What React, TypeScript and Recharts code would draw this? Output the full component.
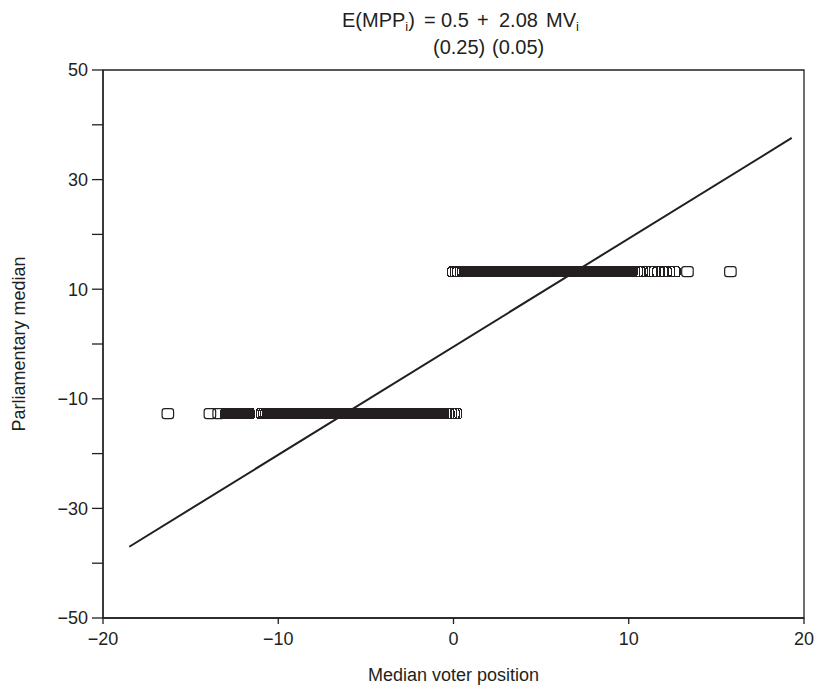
import React from 'react';
import { ScatterChart, Scatter, XAxis, YAxis, ReferenceArea, Label } from 'recharts';

const X_TICKS = [-20, -10, 0, 10, 20];
const Y_TICKS = [-50, -40, -30, -20, -10, 0, 10, 20, 30, 40, 50];
const Y_LABELED = [-50, -30, -10, 10, 30, 50];

const X_TITLE = 'Median voter position';
const Y_TITLE = 'Parliamentary median';

const LOWER_Y = -12.7;
const UPPER_Y = 13.2;

// isolated observations (lower group)
const lowerLooseX = [-16.3, -13.9, -13.4];

// tightly packed observations (lower group)
const lowerBandX = [
  -12.95, -12.9, -12.85, -12.8, -12.75, -12.7, -12.65, -12.6, -12.55, -12.5, -12.45, -12.4, -12.35,
  -12.3, -12.25, -12.2, -12.15, -12.1, -12.05, -12.0, -11.95, -11.9, -11.85, -11.8, -11.75, -11.7,
  -10.9, -10.78, -10.67, -10.58,
  -10.5, -10.45, -10.4, -10.35, -10.3, -10.25, -10.2, -10.15, -10.1, -10.05,
  -10, -9.95, -9.9, -9.85, -9.8, -9.75, -9.7, -9.65, -9.6, -9.55,
  -9.5, -9.45, -9.4, -9.35, -9.3, -9.25, -9.2, -9.15, -9.1, -9.05,
  -9, -8.95, -8.9, -8.85, -8.8, -8.75, -8.7, -8.65, -8.6, -8.55,
  -8.5, -8.45, -8.4, -8.35, -8.3, -8.25, -8.2, -8.15, -8.1, -8.05,
  -8, -7.95, -7.9, -7.85, -7.8, -7.75, -7.7, -7.65, -7.6, -7.55,
  -7.5, -7.45, -7.4, -7.35, -7.3, -7.25, -7.2, -7.15, -7.1, -7.05,
  -7, -6.95, -6.9, -6.85, -6.8, -6.75, -6.7, -6.65, -6.6, -6.55,
  -6.5, -6.45, -6.4, -6.35, -6.3, -6.25, -6.2, -6.15, -6.1, -6.05,
  -6, -5.95, -5.9, -5.85, -5.8, -5.75, -5.7, -5.65, -5.6, -5.55,
  -5.5, -5.45, -5.4, -5.35, -5.3, -5.25, -5.2, -5.15, -5.1, -5.05,
  -5, -4.95, -4.9, -4.85, -4.8, -4.75, -4.7, -4.65, -4.6, -4.55,
  -4.5, -4.45, -4.4, -4.35, -4.3, -4.25, -4.2, -4.15, -4.1, -4.05,
  -4, -3.95, -3.9, -3.85, -3.8, -3.75, -3.7, -3.65, -3.6, -3.55,
  -3.5, -3.45, -3.4, -3.35, -3.3, -3.25, -3.2, -3.15, -3.1, -3.05,
  -3, -2.95, -2.9, -2.85, -2.8, -2.75, -2.7, -2.65, -2.6, -2.55,
  -2.5, -2.45, -2.4, -2.35, -2.3, -2.25, -2.2, -2.15, -2.1, -2.05,
  -2, -1.95, -1.9, -1.85, -1.8, -1.75, -1.7, -1.65, -1.6, -1.55,
  -1.5, -1.45, -1.4, -1.35, -1.3, -1.25, -1.2, -1.15, -1.1, -1.05,
  -1, -0.95, -0.9, -0.85, -0.8, -0.75, -0.7, -0.65, -0.6,
  -0.45, -0.3, -0.15, 0, 0.15,
];

// tightly packed observations (upper group)
const upperBandX = [
  0, 0.14, 0.28, 0.42, 0.55,
  0.65, 0.7, 0.75, 0.8, 0.85, 0.9, 0.95,
  1, 1.05, 1.1, 1.15, 1.2, 1.25, 1.3, 1.35, 1.4, 1.45,
  1.5, 1.55, 1.6, 1.65, 1.7, 1.75, 1.8, 1.85, 1.9, 1.95,
  2, 2.05, 2.1, 2.15, 2.2, 2.25, 2.3, 2.35, 2.4, 2.45,
  2.5, 2.55, 2.6, 2.65, 2.7, 2.75, 2.8, 2.85, 2.9, 2.95,
  3, 3.05, 3.1, 3.15, 3.2, 3.25, 3.3, 3.35, 3.4, 3.45,
  3.5, 3.55, 3.6, 3.65, 3.7, 3.75, 3.8, 3.85, 3.9, 3.95,
  4, 4.05, 4.1, 4.15, 4.2, 4.25, 4.3, 4.35, 4.4, 4.45,
  4.5, 4.55, 4.6, 4.65, 4.7, 4.75, 4.8, 4.85, 4.9, 4.95,
  5, 5.05, 5.1, 5.15, 5.2, 5.25, 5.3, 5.35, 5.4, 5.45,
  5.5, 5.55, 5.6, 5.65, 5.7, 5.75, 5.8, 5.85, 5.9, 5.95,
  6, 6.05, 6.1, 6.15, 6.2, 6.25, 6.3, 6.35, 6.4, 6.45,
  6.5, 6.55, 6.6, 6.65, 6.7, 6.75, 6.8, 6.85, 6.9, 6.95,
  7, 7.05, 7.1, 7.15, 7.2, 7.25, 7.3, 7.35, 7.4, 7.45,
  7.5, 7.55, 7.6, 7.65, 7.7, 7.75, 7.8, 7.85, 7.9, 7.95,
  8, 8.05, 8.1, 8.15, 8.2, 8.25, 8.3, 8.35, 8.4, 8.45,
  8.5, 8.55, 8.6, 8.65, 8.7, 8.75, 8.8, 8.85, 8.9, 8.95,
  9, 9.05, 9.1, 9.15, 9.2, 9.25, 9.3, 9.35, 9.4, 9.45,
  9.5, 9.55, 9.6, 9.65, 9.7, 9.75, 9.8, 9.85, 9.9, 9.95,
  10, 10.05, 10.1, 10.15,
  10.3, 10.45, 10.6, 10.75,
  11.3, 11.5, 11.7, 11.9, 12.1, 12.3, 12.6,
];

// isolated observations (upper group)
const upperLooseX = [13.35, 15.8];

const fitLineX = [-18.5, 19.3];
const fitLineY = [-37.0, 37.6];

const INK = '#231f20';
const FONT = "'Liberation Sans', Arial, Helvetica, sans-serif";

const toPoints = (xs: number[], y: number) => xs.map((x) => ({ x, y }));
const lowerLoose = toPoints(lowerLooseX, LOWER_Y);
const lowerBand = toPoints(lowerBandX, LOWER_Y);
const upperBand = toPoints(upperBandX, UPPER_Y);
const upperLoose = toPoints(upperLooseX, UPPER_Y);
const lineData = fitLineX.map((x, i) => ({ x, y: fitLineY[i] }));

const fmt = (v: number) => (v < 0 ? '\u2212' + Math.abs(v) : String(v));
const fmtY = (v: number) => (Y_LABELED.includes(v) ? fmt(v) : '');

const makeSquare = (crisp: boolean) => (props: any) => {
  const { cx, cy } = props;
  if (cx == null || cy == null) return <g />;
  return (
    <rect
      x={cx - 5.75}
      y={cy - 5}
      width={11.5}
      height={10}
      rx={2.6}
      ry={2.6}
      fill="none"
      stroke={INK}
      strokeWidth={1.2}
      shapeRendering={crisp ? 'crispEdges' : undefined}
    />
  );
};
const LooseSquare = makeSquare(false);
const BandSquare = makeSquare(true);

const NoShape = () => <g />;

const YTitle = () => (
  <text
    x={19}
    y={344}
    transform="rotate(-90 19 344)"
    textAnchor="middle"
    dominantBaseline="central"
    fill={INK}
    fontSize={18}
    fontFamily={FONT}
  >
    {Y_TITLE}
  </text>
);

export default function App() {
  return (
    <div style={{ position: 'absolute', left: 0, top: 0, width: 822, height: 692, background: '#fff' }}>
      <ScatterChart width={822} height={692} margin={{ top: 70, right: 18, bottom: 0, left: 0 }}>
        <XAxis
          type="number"
          dataKey="x"
          domain={[-20, 20]}
          ticks={X_TICKS}
          interval={0}
          tickFormatter={fmt}
          tickSize={6}
          tickMargin={8}
          height={74}
          axisLine={{ stroke: INK, strokeWidth: 1.3 }}
          tickLine={{ stroke: INK, strokeWidth: 1.3 }}
          tick={{ fill: INK, fontSize: 18, fontFamily: FONT }}
          allowDataOverflow
        >
          <Label value={X_TITLE} position="insideBottom" offset={11} fill={INK} fontSize={18} fontFamily={FONT} />
        </XAxis>
        <YAxis
          type="number"
          dataKey="y"
          domain={[-50, 50]}
          ticks={Y_TICKS}
          interval={0}
          tickFormatter={fmtY}
          tickSize={11}
          tickMargin={4}
          width={103}
          axisLine={{ stroke: INK, strokeWidth: 1.3 }}
          tickLine={{ stroke: INK, strokeWidth: 1.3 }}
          tick={{ fill: INK, fontSize: 18, fontFamily: FONT }}
          allowDataOverflow
        >
          <Label content={<YTitle />} />
        </YAxis>
        <ReferenceArea x1={-20} x2={20} y1={-50} y2={50} fill="none" fillOpacity={0} stroke={INK} strokeWidth={1.3} />
        <Scatter data={lowerLoose} shape={LooseSquare} isAnimationActive={false} />
        <Scatter data={lowerBand} shape={BandSquare} isAnimationActive={false} />
        <Scatter data={upperBand} shape={BandSquare} isAnimationActive={false} />
        <Scatter data={upperLoose} shape={LooseSquare} isAnimationActive={false} />
        <Scatter
          data={lineData}
          line={{ stroke: INK, strokeWidth: 2 }}
          shape={NoShape}
          isAnimationActive={false}
        />
      </ScatterChart>
      <svg
        width={822}
        height={62}
        style={{ position: 'absolute', left: 0, top: 0, pointerEvents: 'none' }}
      >
        <g fill={INK} fontFamily={FONT} fontSize={20}>
          <text x={342} y={27}>
            E(MPP
            <tspan fontSize={13} dy={4}>i</tspan>
            <tspan dy={-4}>)</tspan>
          </text>
          <text x={424} y={27}>=</text>
          <text x={441} y={27}>0.5</text>
          <text x={477} y={27}>+</text>
          <text x={499} y={27}>2.08</text>
          <text x={546} y={27}>
            MV
            <tspan fontSize={13} dy={4}>i</tspan>
          </text>
          <text x={433} y={54}>(0.25)</text>
          <text x={492} y={54}>(0.05)</text>
        </g>
      </svg>
    </div>
  );
}
